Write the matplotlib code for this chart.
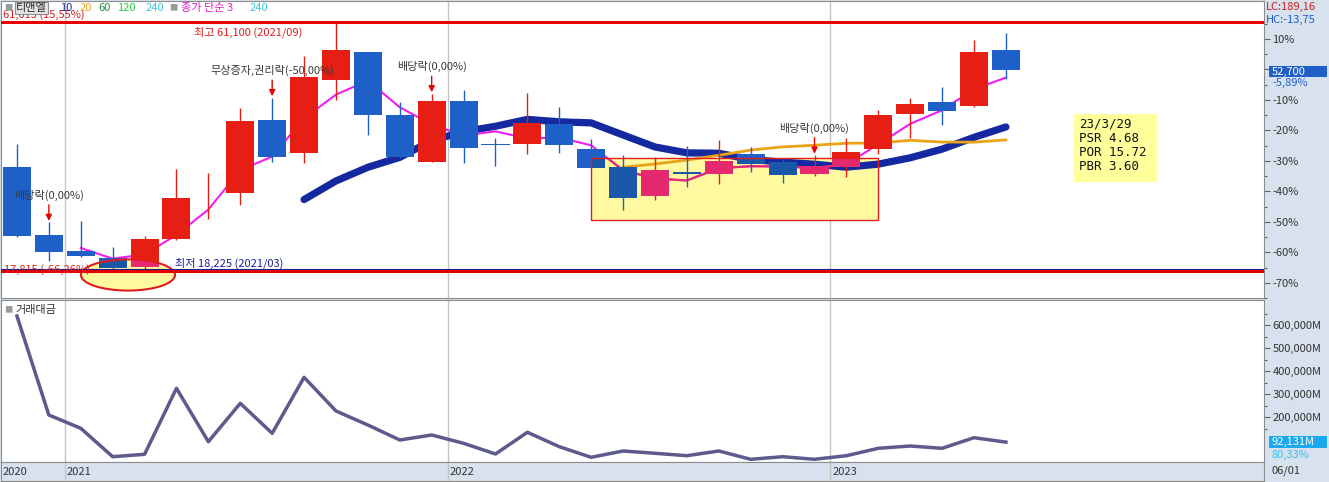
import numpy as np
import pandas as pd
import matplotlib
matplotlib.use("Agg")
import matplotlib.pyplot as plt
from matplotlib.patches import Ellipse, Rectangle

plt.rcParams['font.family'] = ['Noto Sans CJK KR', 'DejaVu Sans']
plt.rcParams['axes.unicode_minus'] = False

# 티앤엘 monthly candles, 2020/11 ~ 2023/06
months = pd.period_range('2020-11', '2023-06', freq='M').strftime('%Y/%m').tolist()
opens = [35950, 24120, 21420, 20060, 18540, 23400, 31500, 31380, 44060, 38310, 50980, 55880,
         44900, 36790, 47270, 39900, 39830, 43380, 38990, 35950, 30880, 35100, 34760, 38140,
         36790, 34760, 35950, 38990, 45070, 47100, 46420, 56220]
highs = [39830, 26320, 26480, 22090, 23950, 35610, 34930, 46080, 47940, 55210, 61100, 55900,
         47100, 48620, 49290, 40850, 48790, 46250, 40680, 37970, 37640, 39490, 40510, 39330,
         37300, 37970, 40850, 45750, 47940, 49800, 57910, 59090]
lows = [23780, 19560, 20230, 18300, 18225, 23300, 26820, 29360, 36790, 36620, 47440, 41520,
        37500, 36700, 36620, 36120, 38140, 38310, 35700, 28510, 30200, 32400, 32910, 35100,
        33070, 34260, 34090, 38140, 40850, 43210, 46250, 51150]
closes = [23950, 21250, 20400, 18400, 23440, 30540, 31600, 43890, 37640, 51490, 56220, 44900,
          37640, 47270, 39160, 39800, 43550, 39660, 35780, 30540, 35440, 34700, 36960, 36450,
          34590, 36120, 38480, 44900, 46760, 45580, 55880, 52700]
# 거래대금 (백만원)
trade_value = [640400, 210000, 152200, 28700, 39100, 326100, 93900, 260900, 130400, 373900,
               227400, 166500, 101300, 123000, 87000, 40400, 134800, 72200, 26100, 53500,
               43500, 33000, 53500, 17400, 28700, 17400, 33000, 65200, 75200, 65200, 111300, 92131]

base_price = 52800           # 0% of the right scale
hi_line, lo_line = 61013, 17815
events = [(1, '배당락(0,00%)'), (8, '무상증자,권리락(-50,00%)'),
          (13, '배당락(0,00%)'), (25, '배당락(0,00%)')]
pct_ticks = [10, 0, -10, -20, -30, -40, -50, -60, -70]
value_ticks = [200000, 300000, 400000, 500000, 600000]
info_lines = ['23/3/29', 'PSR 4.68', 'POR 15.72', 'PBR 3.60']

RED, BLUE = '#E61E14', '#1E5FC8'
PINK, DBLUE = '#E6286E', '#1B57A8'
YELLOW = '#FFF9A0'
BG = '#D7E2EE'

W, H = 1329, 482


def fbox(x0, y0, x1, y1):
    return [x0 / W, 1 - y1 / H, (x1 - x0) / W, (y1 - y0) / H]


def fpt(x, y):
    return x / W, 1 - y / H


def pct2price(p):
    return base_price * (1 + p / 100)


fig = plt.figure(figsize=(13.29, 4.82), dpi=100, facecolor=BG)
ax = fig.add_axes(fbox(1, 1, 1264, 298), facecolor='white')
axv = fig.add_axes(fbox(1, 300, 1264, 462), facecolor='white')
axd = fig.add_axes(fbox(1, 462, 1264, 481), facecolor=BG)

x = np.arange(len(months))
o, h, l, c = map(np.array, (opens, highs, lows, closes))
up = c >= o
col = np.where(up, RED, BLUE)

for a in (ax, axv, axd):
    a.set_xlim(-0.5, 39.09)
    a.set_xticks([])
    for s in a.spines.values():
        s.set_color('#8C8C8C')
        s.set_linewidth(0.8)
    for ym in ('2021/01', '2022/01', '2023/01'):
        a.axvline(months.index(ym) - 0.5, color='#C4C4C4', lw=1, zorder=0.5)

ax.set_ylim(pct2price((71.25 - 298) / 3.125), pct2price((71.25 - 1) / 3.125))

# highlighted zones
rect_fill = Rectangle((18.0, 26650), 9.0, 10820, fc=YELLOW, ec='none', zorder=1)
ell_fill = Ellipse((3.48, 17190), 2.95, 5400, fc=YELLOW, ec='none', zorder=1)
ax.add_patch(rect_fill)
ax.add_patch(ell_fill)
ax.add_patch(Rectangle((18.0, 26650), 9.0, 10820, fill=False, ec='#E01E1E', lw=1, zorder=4))
ax.add_patch(Ellipse((3.48, 17190), 2.95, 5400, fill=False, ec='#E01E1E', lw=1.5, zorder=4))

# moving averages
cs = pd.Series(c)
ax.plot(x, cs.rolling(10).mean(), color='#1428A0', lw=5.2, solid_capstyle='round', zorder=2)
ax.plot(x, cs.rolling(20).mean(), color='#E8A317', lw=2.0, zorder=2.1)
ax.plot(x, cs.rolling(3).mean(), color='#F01EF0', lw=1.5, zorder=2.2)
ma3_in = ax.plot(x, cs.rolling(3).mean(), color=PINK, lw=1.5, zorder=2.3)[0]
ma3_in.set_clip_path(rect_fill)

# candles
ax.vlines(x, l, h, colors=col, lw=1, zorder=3)
ax.bar(x, np.abs(c - o), bottom=np.minimum(o, c), width=0.88, color=col, zorder=3)
for zone in (rect_fill, ell_fill):
    bars = ax.bar(x, np.abs(c - o), bottom=np.minimum(o, c), width=0.88,
                  color=np.where(up, PINK, DBLUE), zorder=3.2)
    for b in bars:
        b.set_clip_path(zone)

# high / low lines
ax.axhline(hi_line, color='#E60000', lw=2.2, zorder=4)
ax.axhline(lo_line, color='#E60000', lw=2.2, zorder=4)
ax.axhline(min(lows), color='#1E1E8C', lw=0.8, zorder=4)

imax, imin = int(np.argmax(h)), int(np.argmin(l))
ax.annotate(f'최고 {h[imax]:,} ({months[imax]})', xy=(imax, h[imax]), xytext=(-24.5, -7.5),
            textcoords='offset points', ha='right', va='center', color='#DC1E1E', fontsize=8, zorder=5)
ax.annotate(f'최저 {l[imin]:,} ({months[imin]})', xy=(imin, l[imin]), xytext=(22, 4.3),
            textcoords='offset points', ha='left', va='center', color='#1E1E96', fontsize=8, zorder=5)
fig.text(*fpt(3, 15), f'{hi_line:,} (15,55%)', color='#D21E1E', fontsize=8, va='center')
fig.text(*fpt(4, 270), f'{lo_line:,} (-66,26%)', color='#D21E1E', fontsize=8, va='center')

for i, label in events:
    ax.annotate(label, xy=(i, h[i]), xytext=(0, 19.5), textcoords='offset points',
                ha='center', va='center', color='#3A3A3A', fontsize=8, zorder=5,
                arrowprops=dict(arrowstyle='-|>', color='#E60000', lw=1,
                                mutation_scale=9, shrinkA=1, shrinkB=1))

# info box
ax.add_patch(Rectangle((33.13, 33240), 2.6, 11830, fc='#FFFF9C', ec='none', zorder=2))
ax.text(33.3, 44500, '\n'.join(info_lines), va='top', ha='left', family='DejaVu Sans Mono',
        fontsize=9, linespacing=1.12, color='#111111', zorder=5)

# right price scale (%)
ax.yaxis.tick_right()
ax.set_yticks([pct2price(p) for p in pct_ticks])
ax.set_yticklabels(['' if p == 0 else f'{p}%' for p in pct_ticks])
ax.set_yticks([pct2price(p) for p in range(-75, 25, 5) if p % 10], minor=True)
ax.tick_params(axis='y', which='major', length=4, width=0.8, color='#606060',
               labelsize=8, labelcolor='#333333', pad=2)
ax.tick_params(axis='y', which='minor', length=2, width=0.8, color='#606060')

fig.patches.append(Rectangle(fpt(1269, 77), 58 / W, 11 / H, transform=fig.transFigure,
                             fc=BLUE, ec='none'))
fig.text(*fpt(1272, 71.5), f'{closes[-1]:,}', color='white', fontsize=8, va='center')
fig.text(*fpt(1272, 83), '-5,89%', color=BLUE, fontsize=8, va='center')
fig.text(*fpt(1266, 7), 'LC:189,16', color='#D21E1E', fontsize=8, va='center')
fig.text(*fpt(1266, 20), 'HC:-13,75', color=BLUE, fontsize=8, va='center')

# legend row
legend_items = [(4, '■', '#9A9A9A', 6), (60, '10', '#1E2896', 8), (80, '20', '#E6A51E', 8),
                (98, '60', '#1E8C46', 8), (117, '120', '#28C83C', 8), (146, '240', '#3CC8DC', 8),
                (169, '■', '#9A9A9A', 6), (181, '종가 단순 3', '#E61EC8', 8), (250, '240', '#3CC8DC', 8)]
for px, t, cl, fs in legend_items:
    fig.text(*fpt(px, 8), t, color=cl, fontsize=fs, va='center')
fig.text(*fpt(16, 8), '티앤엘', color='#222222', fontsize=8, va='center',
         bbox=dict(boxstyle='square,pad=0.1', fc='#E4E4E4', ec='#8C8C8C', lw=0.8))

# trading value panel
axv.plot(x, trade_value, color='#5D5A8E', lw=2.5, zorder=3)
axv.set_ylim(5650, 710000)
axv.yaxis.tick_right()
axv.set_yticks(value_ticks)
axv.set_yticklabels([f'{v:,}M' for v in value_ticks])
axv.set_yticks([v for v in range(150000, 700000, 50000) if v % 100000], minor=True)
axv.tick_params(axis='y', which='major', length=4, width=0.8, color='#606060',
                labelsize=8, labelcolor='#333333', pad=2)
axv.tick_params(axis='y', which='minor', length=2, width=0.8, color='#606060')
fig.text(*fpt(4, 310), '■', color='#9A9A9A', fontsize=6, va='center')
fig.text(*fpt(15, 310), '거래대금', color='#333333', fontsize=8, va='center')

fig.patches.append(Rectangle(fpt(1269, 448), 58 / W, 12 / H, transform=fig.transFigure,
                             fc='#1AA8F0', ec='none'))
fig.text(*fpt(1272, 442), f'{trade_value[-1]:,}M', color='white', fontsize=8, va='center')
fig.text(*fpt(1272, 455), '80,33%', color='#32BEF0', fontsize=8, va='center')

# date strip
axd.set_ylim(0, 1)
axd.set_yticks([])
axd.text(-0.44, 0.45, months[0][:4], fontsize=8, color='#333333', va='center')
for ym in ('2021/01', '2022/01', '2023/01'):
    axd.text(months.index(ym) - 0.44, 0.45, ym[:4], fontsize=8, color='#333333', va='center')
fig.text(*fpt(1271, 471), '06/01', color='#333333', fontsize=8, va='center')

fig.savefig('out.png', dpi=100, facecolor=BG)
